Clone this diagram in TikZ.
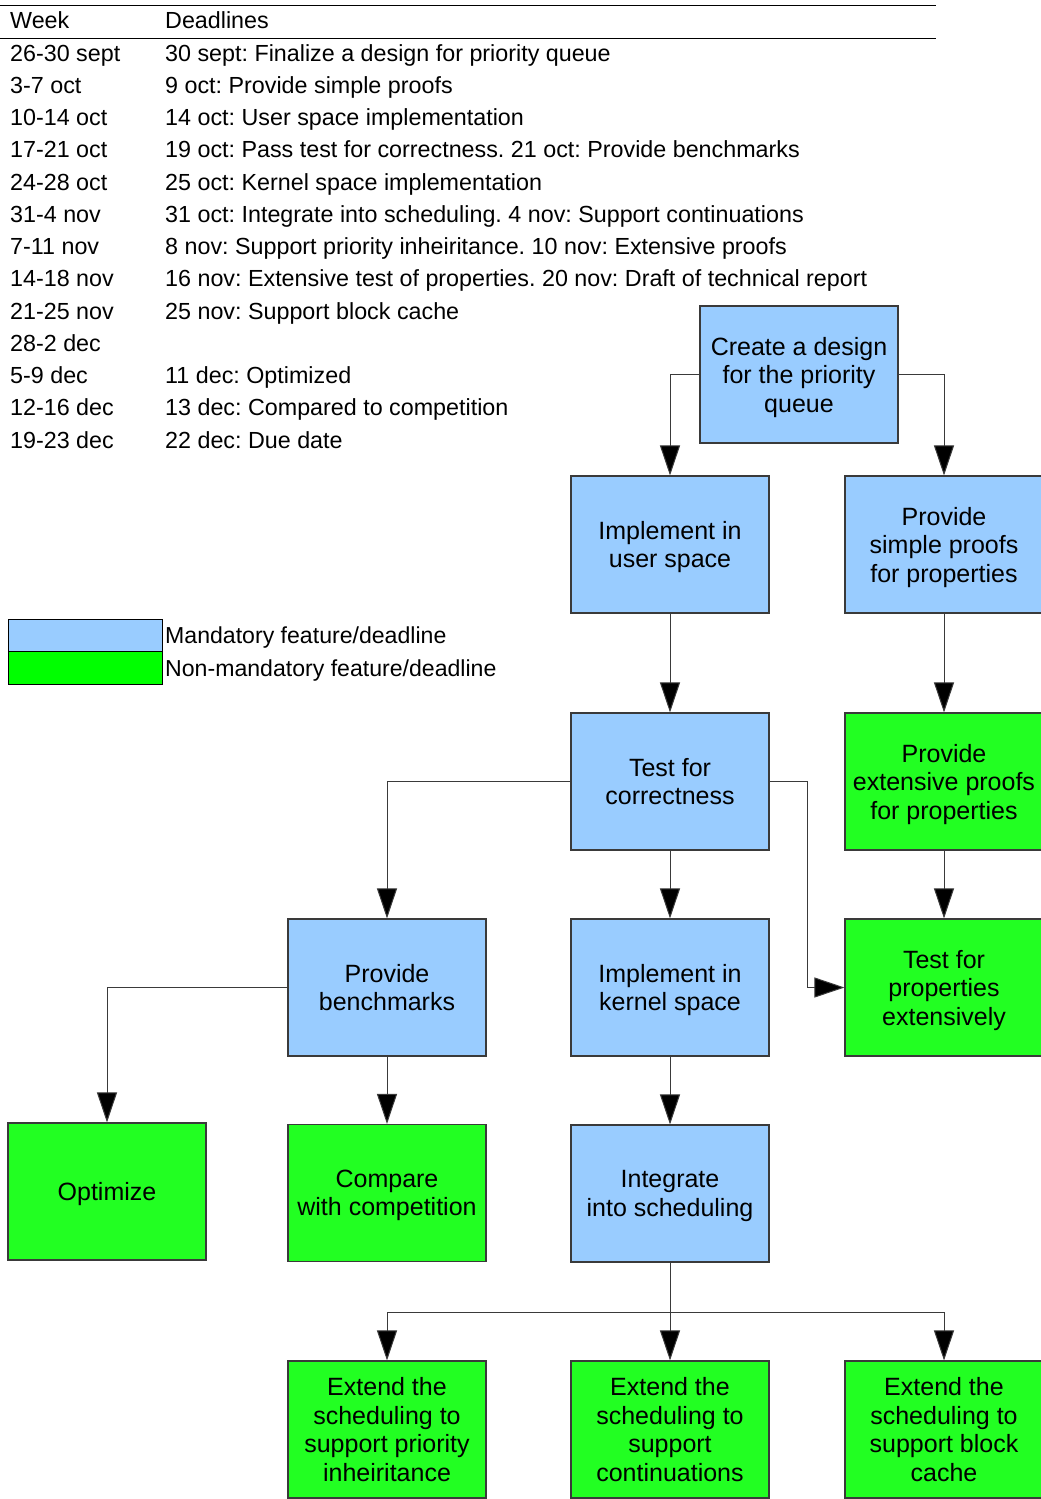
\documentclass[tikz,border=0pt]{standalone}
\usepackage{fontspec}
\setmainfont{Liberation Sans}
\usetikzlibrary{arrows.meta}
\frenchspacing
\definecolor{mandblue}{HTML}{99CCFF}
\definecolor{optgreen}{HTML}{22FF22}
\definecolor{legendgreen}{HTML}{00FF00}
\definecolor{edgegray}{HTML}{3A3A3A}
\tikzset{
  task/.style={draw=edgegray, line width=1.1pt, minimum width=198pt, minimum height=137pt,
    inner sep=0pt, align=center, text depth=0pt, font=\fontsize{25}{28.5}\selectfont},
  mand/.style={task, fill=mandblue},
  opt/.style={task, fill=optgreen},
  conn/.style={draw=edgegray, line width=1pt, -{Triangle[length=30pt,width=20pt,fill=black]}},
  cell/.style={anchor=base west, inner sep=0pt, font=\fontsize{23.3}{27}\selectfont},
  legtext/.style={anchor=base west, inner sep=0pt, font=\fontsize{23.1}{27}\selectfont},
}
\begin{document}
\begin{tikzpicture}[x=1pt,y=-1pt]
\useasboundingbox[fill=white] (0,0) rectangle (1041,1499);

% deadline table
\draw[line width=0.8pt] (0,5) -- (936,5);
\draw[line width=0.8pt] (0,38) -- (936,38);
\node[cell] (hweek) at (10,28) {Week};
\node[cell] (hdead) at (165,28) {Deadlines};
\foreach \w/\d [count=\i from 0] in {
  26-30 sept/30 sept: Finalize a design for priority queue,
  3-7 oct/9 oct: Provide simple proofs,
  10-14 oct/14 oct: User space implementation,
  17-21 oct/19 oct: Pass test for correctness. 21 oct: Provide benchmarks,
  24-28 oct/25 oct: Kernel space implementation,
  31-4 nov/31 oct: Integrate into scheduling. 4 nov: Support continuations,
  7-11 nov/8 nov: Support priority inheiritance. 10 nov: Extensive proofs,
  14-18 nov/16 nov: Extensive test of properties. 20 nov: Draft of technical report,
  21-25 nov/25 nov: Support block cache,
  28-2 dec/{},
  5-9 dec/11 dec: Optimized,
  12-16 dec/13 dec: Compared to competition,
  19-23 dec/22 dec: Due date}{
  \node[cell] (week\i) at (10,{61+32.25*\i}) {\w};
  \node[cell] (dead\i) at (165,{61+32.25*\i}) {\d};
}

% legend
\node[draw=black, line width=0.8pt, fill=mandblue, minimum width=154pt, minimum height=32pt, inner sep=0pt] (legm) at (85,635) {};
\node[draw=black, line width=0.8pt, fill=legendgreen, minimum width=154pt, minimum height=33pt, inner sep=0pt] (lego) at (85,667.5) {};
\node[legtext] (legmt) at (165,643) {Mandatory feature/deadline};
\node[legtext] (legot) at (165,676) {Non-mandatory feature/deadline};

% tasks
\node[mand] (create) at (799,374.5) {Create a design\\for the priority\\queue};
\node[mand] (user) at (670,544.5) {Implement in\\user space};
\node[mand] (simple) at (944,544.5) {Provide\\simple proofs\\for properties};
\node[mand] (test) at (670,781.5) {Test for\\correctness};
\node[opt] (ext) at (944,781.5) {Provide\\extensive proofs\\for properties};
\node[mand] (bench) at (387,987.5) {Provide\\benchmarks};
\node[mand] (kernel) at (670,987.5) {Implement in\\kernel space};
\node[opt] (props) at (944,987.5) {Test for\\properties\\extensively};
\node[opt] (optim) at (107,1191.5) {Optimize};
\node[opt] (comp) at (387,1193) {Compare\\with competition};
\node[mand] (integ) at (670,1193.5) {Integrate\\into scheduling};
\node[opt] (inh) at (387,1429.5) {Extend the\\scheduling to\\support priority\\inheiritance};
\node[opt] (cont) at (670,1429.5) {Extend the\\scheduling to\\support\\continuations};
\node[opt] (cache) at (944,1429.5) {Extend the\\scheduling to\\support block\\cache};

% dependencies
\coordinate (bend) at (807,781.5);
\coordinate (split) at (670,1312);
\draw[conn] (create.west) -| (user.north);
\draw[conn] (create.east) -| (simple.north);
\draw[conn] (user.south) -- (test.north);
\draw[conn] (simple.south) -- (ext.north);
\draw[conn] (test.west) -| (bench.north);
\draw[conn] (test.south) -- (kernel.north);
\draw[conn] (test.east) -- (bend) |- (props.west);
\draw[conn] (ext.south) -- (props.north);
\draw[conn] (bench.west) -| (optim.north);
\draw[conn] (bench.south) -- (comp.north);
\draw[conn] (kernel.south) -- (integ.north);
\draw[conn] (integ.south) -- (cont.north);
\draw[conn] (split) -| (inh.north);
\draw[conn] (split) -| (cache.north);
\end{tikzpicture}
\end{document}
